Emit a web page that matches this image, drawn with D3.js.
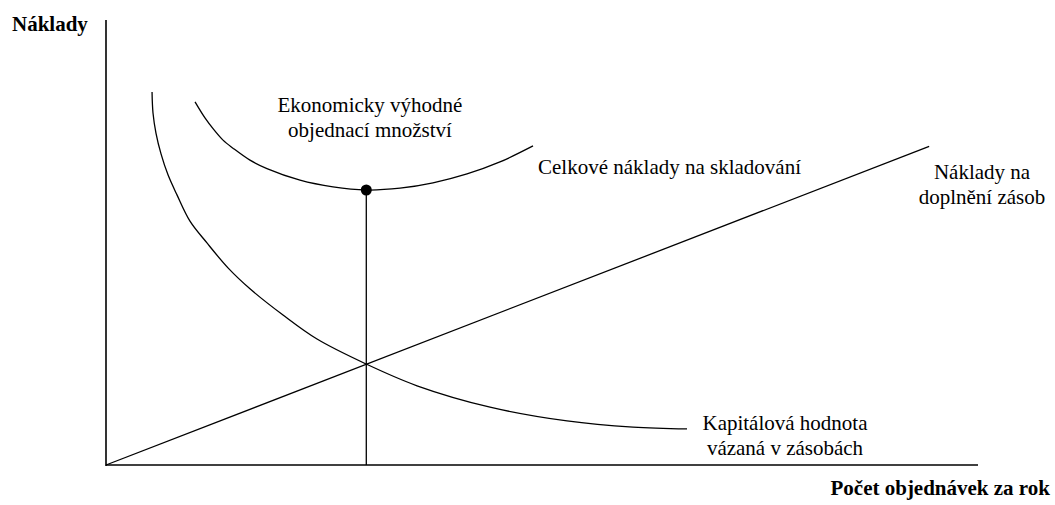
<!DOCTYPE html>
<html lang="cs">
<head>
    <meta charset="UTF-8">
    <title>Ekonomicky výhodné objednací množství</title>
    <script src="https://d3js.org/d3.v7.min.js"></script>
    <style>
        body { margin: 0; background: #fff; }
        svg text { font-family: "Liberation Serif", "Times New Roman", Times, serif; font-size: 21px; fill: #000; }
        .bold { font-weight: bold; }
        .curve { fill: none; stroke: #000; stroke-width: 1.3px; }
        .axis { stroke: #000; stroke-width: 1.6px; }
    </style>
</head>
<body>
    <svg id="chart"></svg>
    <script>
        const width = 1055;
        const height = 505;

        // values (x = orders per year, y = costs, both 0..100)
        const capitalX = [5.28, 5.39, 5.73, 6.31, 7.11, 8.14, 9.63, 11.58, 13.99, 16.51, 20.30, 24.20, 29.82, 35.67, 44.04, 52.87, 60.44, 66.63];
        const capitalY = [83.8, 79.1, 74.6, 69.9, 65.2, 60.7, 54.8, 49.9, 44.3, 39.6, 33.7, 28.3, 22.7, 17.8, 13.0, 9.9, 8.5, 8.1];
        const totalX = [10.21, 11.35, 12.39, 13.42, 14.56, 16.51, 18.46, 22.25, 26.03, 29.85, 33.72, 37.5, 41.4, 45.18, 48.97];
        const totalY = [81.6, 78.0, 75.3, 73.0, 71.2, 68.5, 66.6, 64.0, 62.5, 61.8, 62.2, 63.4, 65.4, 68.1, 71.7];
        const orderX = [0, 94.4];
        const orderY = [0, 71.6];
        const eoq = { x: 29.85, y: 61.8 };

        const svg = d3.select("#chart")
            .attr("width", width)
            .attr("height", height);

        const x = d3.scaleLinear().domain([0, 100]).range([106, 978]);
        const y = d3.scaleLinear().domain([0, 100]).range([465, 20]);

        // axes
        svg.append("line").attr("class", "axis")
            .attr("x1", x(0)).attr("x2", x(0))
            .attr("y1", y(100)).attr("y2", y(0) + 1);
        svg.append("line").attr("class", "axis")
            .attr("x1", x(0)).attr("x2", x(100))
            .attr("y1", y(0)).attr("y2", y(0));

        const line = d3.line()
            .x(d => x(d[0]))
            .y(d => y(d[1]))
            .curve(d3.curveCatmullRom.alpha(0.5));

        svg.append("path").attr("class", "curve")
            .attr("d", line(d3.zip(capitalX, capitalY)));
        svg.append("path").attr("class", "curve")
            .attr("d", line(d3.zip(totalX, totalY)));
        svg.append("path").attr("class", "curve")
            .attr("d", d3.line().x(d => x(d[0])).y(d => y(d[1]))(d3.zip(orderX, orderY)));

        // EOQ drop line + point
        svg.append("line").attr("class", "curve")
            .attr("x1", x(eoq.x)).attr("x2", x(eoq.x))
            .attr("y1", y(eoq.y)).attr("y2", y(0));
        svg.append("circle")
            .attr("cx", x(eoq.x)).attr("cy", y(eoq.y))
            .attr("r", 5.5).attr("fill", "#000");

        // labels
        svg.append("text").attr("class", "bold")
            .attr("x", 12).attr("y", 31).text("Náklady");
        svg.append("text").attr("class", "bold")
            .attr("x", 1050).attr("y", 495).attr("text-anchor", "end")
            .text("Počet objednávek za rok");

        const labels = [
            { x: 370, y: 112, lines: ["Ekonomicky výhodné", "objednací množství"], anchor: "middle" },
            { x: 538, y: 174, lines: ["Celkové náklady na skladování"], anchor: "start" },
            { x: 982, y: 179, lines: ["Náklady na", "doplnění zásob"], anchor: "middle" },
            { x: 785, y: 430, lines: ["Kapitálová hodnota", "vázaná v zásobách"], anchor: "middle" }
        ];

        labels.forEach(l => {
            const t = svg.append("text")
                .attr("x", l.x).attr("y", l.y)
                .attr("text-anchor", l.anchor);
            l.lines.forEach((s, i) => {
                t.append("tspan")
                    .attr("x", l.x)
                    .attr("dy", i === 0 ? 0 : 24.5)
                    .text(s);
            });
        });
    </script>
</body>
</html>
